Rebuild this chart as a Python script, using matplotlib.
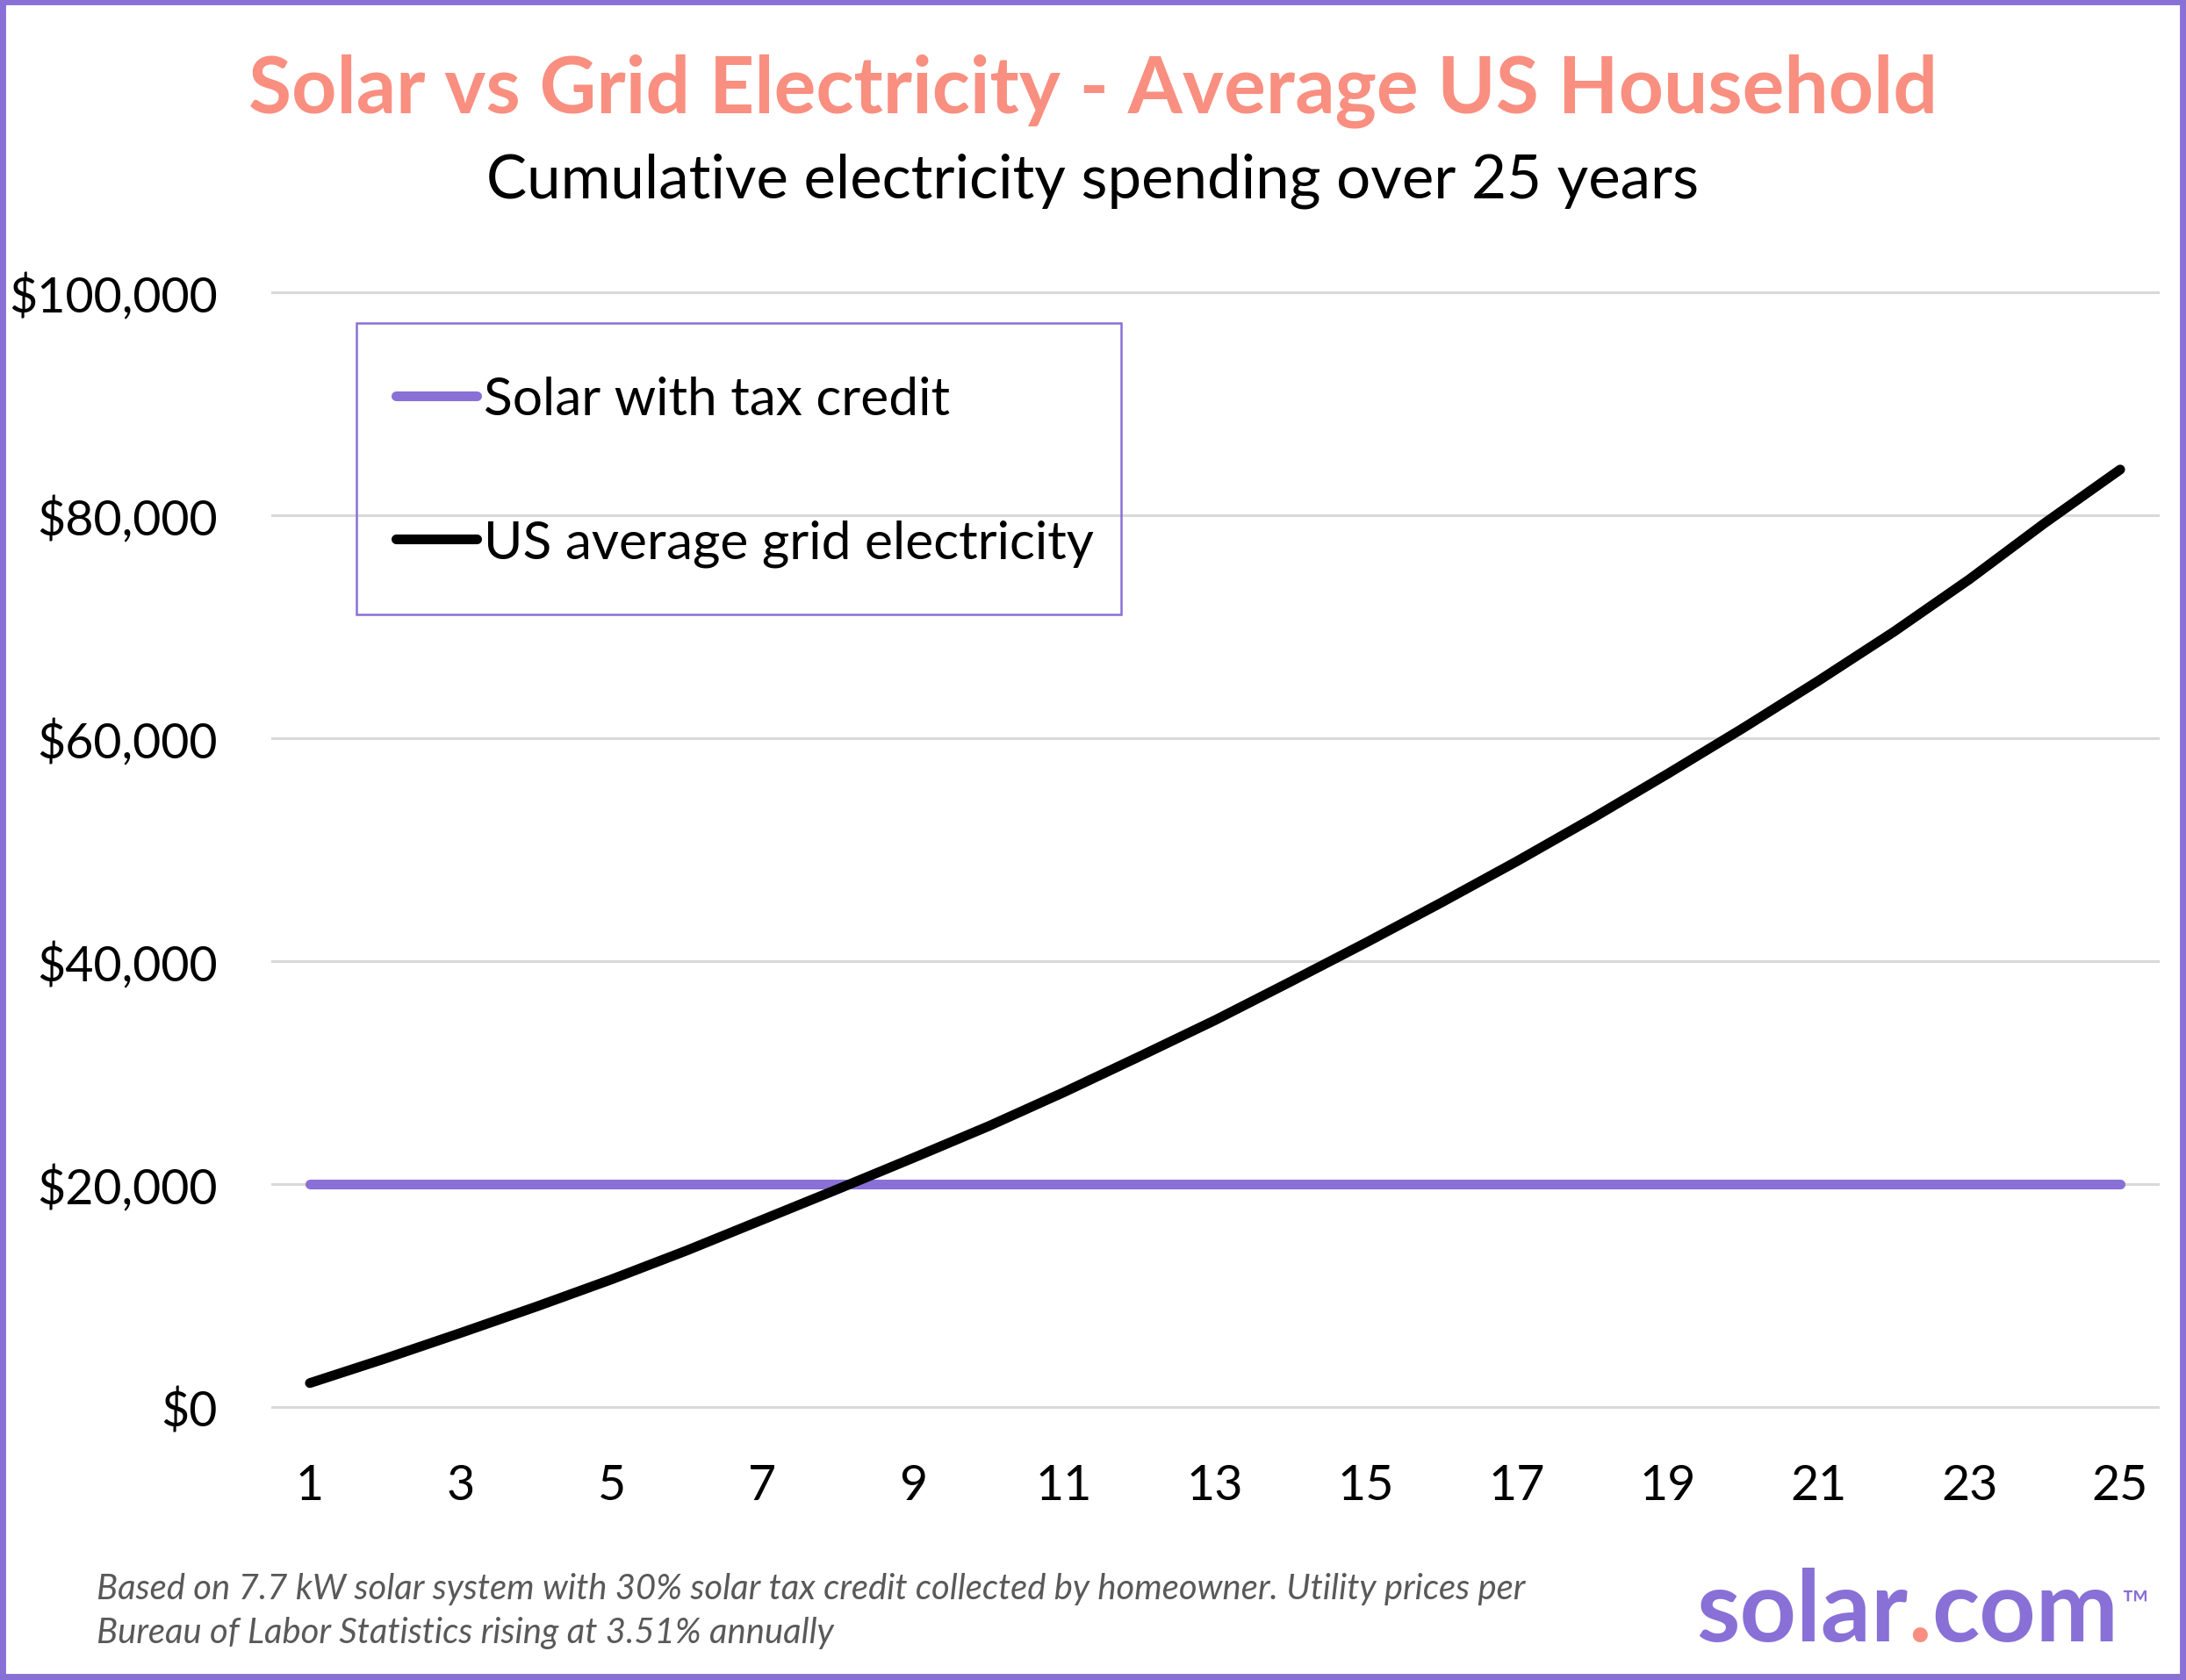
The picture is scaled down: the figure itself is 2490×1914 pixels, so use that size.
import matplotlib
matplotlib.use("Agg")
import matplotlib.pyplot as plt
from matplotlib.patches import Rectangle
from matplotlib.ticker import FuncFormatter

plt.rcParams['font.family'] = ['Lato', 'DejaVu Sans']

# data
years = list(range(1, 26))
solar = [20000] * 25
grid = [2150, 4350, 6650, 9000, 11450, 14050, 16800, 19550, 22350, 25200,
        28250, 31450, 34700, 38150, 41650, 45250, 48950, 52800, 56800, 60900,
        65150, 69550, 74250, 79300, 84100]
y_ticks = [0, 20000, 40000, 60000, 80000, 100000]
x_ticks = list(range(1, 26, 2))

purple = '#8970D6'
salmon = '#F98F80'

W, H = 2490, 1915
fig = plt.figure(figsize=(W / 100, H / 100), dpi=100)
fig.patch.set_facecolor('white')

ax = fig.add_axes([310 / W, (H - 1604) / H, (2458 - 310) / W, (1604 - 334) / H])
ax.plot(years, solar, color=purple, lw=8, solid_capstyle='round',
        label='Solar with tax credit', zorder=3)
ax.plot(years, grid, color='black', lw=8, solid_capstyle='round',
        label='US average grid electricity', zorder=4)

ax.set_xlim(0.5, 25.5)
ax.set_ylim(0, 100000)
ax.set_yticks(y_ticks)
ax.set_xticks(x_ticks)
ax.yaxis.set_major_formatter(FuncFormatter(lambda v, p: '${:,.0f}'.format(v)))
ax.tick_params(axis='both', length=0, labelsize=40, colors='black')
ax.tick_params(axis='y', pad=45)
ax.tick_params(axis='x', pad=46)
for s in ax.spines.values():
    s.set_visible(False)
ax.yaxis.grid(True, color='#D9D9D9', lw=2.2)
ax.set_axisbelow(True)
for gl in ax.get_ygridlines():
    gl.set_clip_on(False)

# legend entries without frame, box drawn separately
leg = ax.legend(loc='center left', bbox_to_anchor=(451 / W, 1 - 538 / H),
                bbox_transform=fig.transFigure, fontsize=43.5, frameon=False,
                handlelength=1.52, handletextpad=0.13,
                labelspacing=1.8, borderpad=0, borderaxespad=0)
for h in leg.legend_handles:
    h.set_solid_capstyle('round')
fig.patches.append(Rectangle((406 / W, 1 - 701 / H), (1277 - 406) / W, (701 - 369) / H,
                             transform=fig.transFigure, fill=False,
                             edgecolor=purple, linewidth=1.8, zorder=5))

fig.text(0.5, 1 - 128 / H, 'Solar vs Grid Electricity - Average US Household',
         ha='center', va='baseline', fontsize=64.4, fontweight='bold', color=salmon)
fig.text(0.5, 1 - 225 / H, 'Cumulative electricity spending over 25 years',
         ha='center', va='baseline', fontsize=49.7, color='black')

fig.text(110 / W, 1 - 1822 / H,
         'Based on 7.7 kW solar system with 30% solar tax credit collected by homeowner. Utility prices per',
         ha='left', va='baseline', fontsize=28.8, style='italic', color='#595959')
fig.text(110 / W, 1 - 1872 / H, 'Bureau of Labor Statistics rising at 3.51% annually',
         ha='left', va='baseline', fontsize=28.8, style='italic', color='#595959')

# logo: solar.com with a salmon dot
rend = fig.canvas.get_renderer()
logo_size = 81
x0 = 1932
parts = [('solar', purple), ('.', salmon), ('com', purple)]
x = x0
for txt, c in parts:
    t = fig.text(x / W, 1 - 1870 / H, txt, ha='left', va='baseline',
                 fontsize=logo_size, fontweight='bold', color=c)
    bb = t.get_window_extent(rend)
    x = x + bb.width
fig.text((x + 4) / W, 1 - 1842 / H, '\u2122', ha='left', va='baseline',
         fontsize=30, color=purple)

fig.patches.append(Rectangle((0, 0), 1, 1, transform=fig.transFigure, fill=False,
                             edgecolor=purple, linewidth=10, zorder=10))

fig.savefig('out.png', dpi=100, facecolor='white')
